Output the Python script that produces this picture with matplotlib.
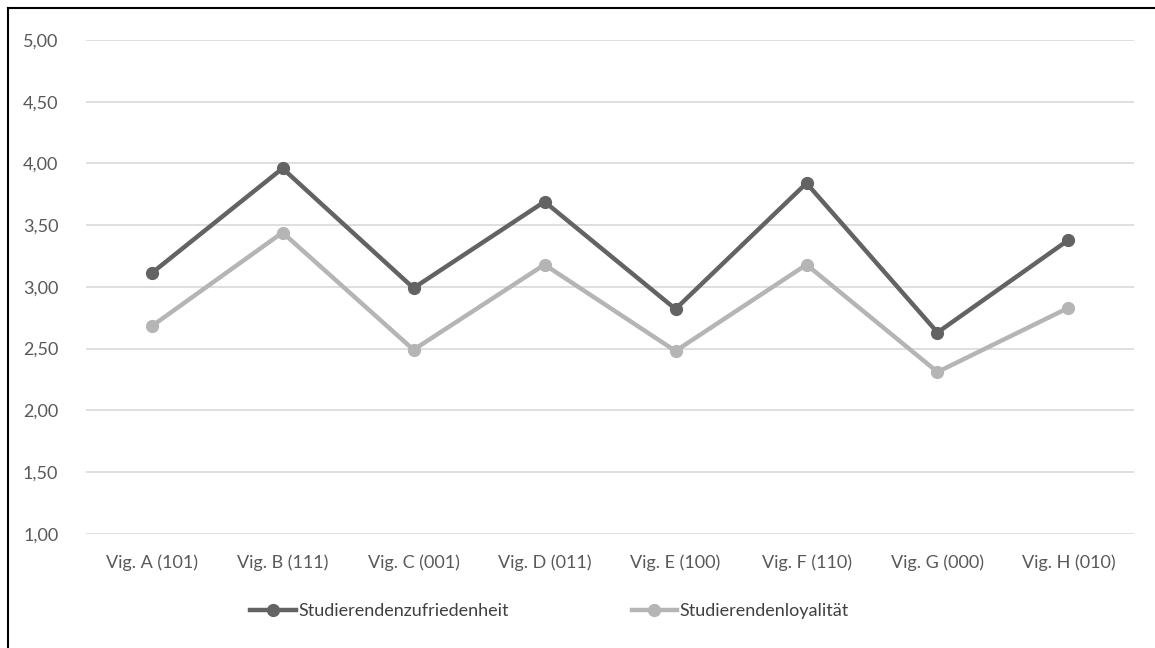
import matplotlib.pyplot as plt
from matplotlib.lines import Line2D
from matplotlib.ticker import FuncFormatter

plt.rcParams['font.family'] = ['Lato', 'DejaVu Sans']

kategorien = ['Vig. A (101)', 'Vig. B (111)', 'Vig. C (001)', 'Vig. D (011)',
              'Vig. E (100)', 'Vig. F (110)', 'Vig. G (000)', 'Vig. H (010)']
zufriedenheit = [3.11, 3.96, 2.99, 3.69, 2.82, 3.84, 2.63, 3.38]
loyalitaet = [2.68, 3.44, 2.49, 3.18, 2.48, 3.18, 2.31, 2.83]

fig = plt.figure(figsize=(11.55, 6.48), dpi=100)
ax = fig.add_axes([0.0745, 0.1764, 0.9073, 0.7619])

x = range(len(kategorien))
ax.plot(x, zufriedenheit, color='#636363', lw=3.2, marker='o', ms=8.5,
        label='Studierendenzufriedenheit', zorder=3)
ax.plot(x, loyalitaet, color='#b5b5b5', lw=3.2, marker='o', ms=8.5,
        label='Studierendenloyalität', zorder=3)

ax.set_xlim(-0.5, len(kategorien) - 0.5)
ax.set_ylim(1.0, 5.0)
ax.set_yticks([1.0, 1.5, 2.0, 2.5, 3.0, 3.5, 4.0, 4.5, 5.0])
ax.yaxis.set_major_formatter(FuncFormatter(lambda v, p: f'{v:.2f}'.replace('.', ',')))
ax.set_xticks(list(x))
ax.set_xticklabels(kategorien)
ax.grid(axis='y', color='#d9d9d9', lw=1.2)
ax.set_axisbelow(True)
for s in ax.spines.values():
    s.set_visible(False)
ax.tick_params(length=0, labelsize=13, colors='#595959')
ax.tick_params(axis='x', pad=15)
ax.tick_params(axis='y', pad=20)

leg = fig.legend(loc='center', bbox_to_anchor=(549.5 / 1155, 1 - 611 / 648), ncol=2,
                 frameon=False, fontsize=13, handlelength=2.5, handletextpad=0.15,
                 columnspacing=6.8)
for t in leg.get_texts():
    t.set_color('#404040')

# Rahmen (nur oben und links sichtbar)
fig.add_artist(Line2D([8 / 1155, 1.0], [1 - 8 / 648, 1 - 8 / 648],
                      transform=fig.transFigure, color='black', lw=1.5))
fig.add_artist(Line2D([8 / 1155, 8 / 1155], [0.0, 1 - 8 / 648],
                      transform=fig.transFigure, color='black', lw=1.5))

fig.savefig('out.png', dpi=100)
